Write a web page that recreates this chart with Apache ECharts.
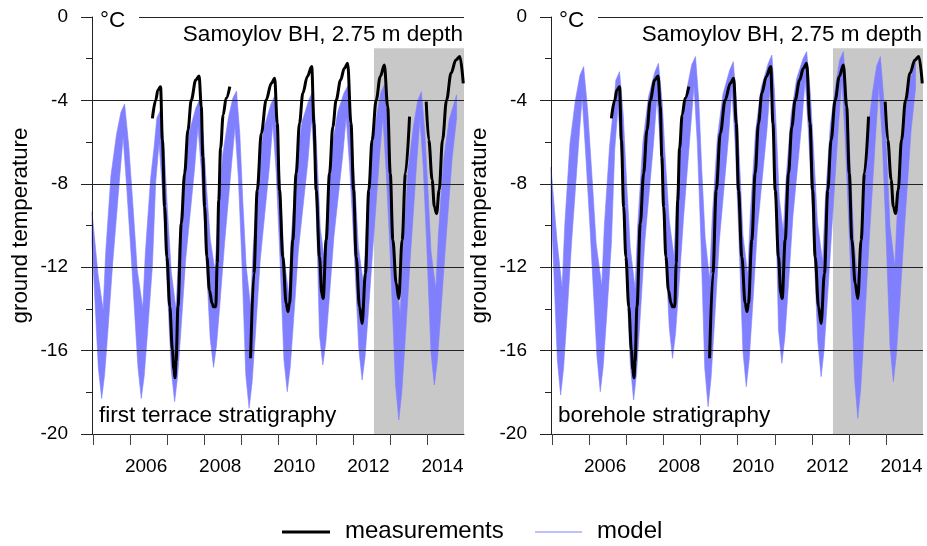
<!DOCTYPE html>
<html><head><meta charset="utf-8">
<script src="https://cdn.jsdelivr.net/npm/echarts@6/dist/echarts.min.js"></script>
<style>html,body{margin:0;padding:0;background:#fff}#c{width:927px;height:546px}</style>
</head><body><div id="c"></div>
<script>
// ---- data ----
const measTime = [2006.59,2006.68,2006.74,2006.81,2006.86,2006.92,2006.98,2007.06,2007.13,2007.17,2007.20,2007.23,2007.28,2007.37,2007.46,2007.55,2007.64,2007.76,2007.85,2007.91,2007.95,2008.00,2008.06,2008.13,2008.20,2008.24,2008.30,2008.34,2008.38,2008.43,2008.50,2008.58,2008.68,
 2008.96,
 2009.24,2009.33,2009.42,2009.53,2009.66,2009.80,2009.89,2009.96,2010.02,2010.11,2010.20,2010.25,2010.29,2010.38,2010.47,2010.56,2010.65,2010.77,2010.89,2010.95,2011.01,2011.10,2011.16,2011.20,2011.28,2011.37,2011.46,2011.55,2011.67,2011.77,2011.86,2011.95,2012.02,2012.09,2012.18,2012.25,2012.34,2012.43,2012.52,2012.63,2012.74,2012.85,2012.94,2013.01,2013.08,2013.17,2013.24,2013.33,2013.42,2013.53,
 2013.75,
 2013.98,2014.05,2014.14,2014.20,2014.26,2014.33,2014.42,2014.53,2014.65,2014.78,2014.89,2014.98];
const measValue = [-4.86,-3.98,-3.5,-3.34,-5.9,-9.1,-11.5,-13.9,-15.97,-16.9,-17.3,-16.5,-13.9,-9.9,-7.5,-5.42,-3.98,-3.02,-2.83,-4.3,-6.7,-9.1,-11.5,-13.1,-13.73,-13.9,-13.9,-11.8,-8.8,-6.3,-4.7,-3.9,-3.34,
 null,
 -16.37,-12.3,-8.3,-5.58,-3.98,-3.18,-2.94,-5.1,-8.3,-11.5,-13.73,-14.13,-13.73,-10.7,-7.5,-5.1,-3.66,-2.86,-2.38,-5.1,-8.3,-11.5,-13.25,-13.5,-10.7,-7.5,-5.26,-3.98,-3.02,-2.46,-2.22,-5.1,-8.3,-11.5,-13.9,-14.7,-12.3,-8.3,-5.9,-3.98,-2.86,-2.3,-4.3,-7.5,-10.7,-12.77,-13.5,-10.7,-7.5,-4.78,
 null,
 -4.06,-5.9,-7.8,-9.1,-9.42,-8.3,-5.9,-3.98,-2.7,-2.06,-1.9,-3.18];

const upperTime = [2004.96,2005.12,
 2005.26,2005.33,2005.47,2005.62,2005.74,2005.84,2005.95,2006.07,2006.18,
 2006.33,2006.40,2006.54,2006.64,2006.71,2006.81,2006.91,2007.00,2007.10,
 2007.23,2007.30,2007.44,2007.59,2007.76,2007.86,2007.96,2008.05,2008.15,
 2008.28,2008.35,2008.49,2008.64,2008.76,2008.86,2008.95,2009.03,2009.12,
 2009.24,2009.31,2009.45,2009.60,2009.78,2009.88,2009.97,2010.06,2010.14,
 2010.27,2010.34,2010.48,2010.63,2010.82,2010.92,2010.99,2011.06,2011.12,
 2011.23,2011.30,2011.44,2011.59,2011.76,2011.86,2011.96,2012.06,2012.15,
 2012.29,2012.36,2012.50,2012.65,2012.75,2012.85,2012.95,2013.05,2013.14,
 2013.28,2013.35,2013.49,2013.64,2013.75,2013.85,2013.94,2014.03,2014.11,
 2014.24,2014.31,2014.45,2014.60,2014.80];
const lowerTime = [2004.96,2005.13,
 2005.22,2005.30,2005.39,2005.52,2005.71,2005.80,2005.89,2006.02,2006.20,
 2006.29,2006.37,2006.46,2006.59,2006.68,2006.77,2006.86,2006.96,2007.10,
 2007.19,2007.27,2007.36,2007.49,2007.73,2007.82,2007.91,2008.01,2008.15,
 2008.24,2008.32,2008.41,2008.54,2008.73,2008.82,2008.91,2009.00,2009.11,
 2009.20,2009.28,2009.37,2009.50,2009.75,2009.84,2009.93,2010.02,2010.14,
 2010.23,2010.31,2010.40,2010.53,2010.79,2010.88,2010.97,2011.03,2011.10,
 2011.19,2011.27,2011.36,2011.49,2011.73,2011.82,2011.91,2012.02,2012.16,
 2012.25,2012.33,2012.42,2012.55,2012.72,2012.81,2012.90,2013.01,2013.15,
 2013.24,2013.32,2013.41,2013.54,2013.72,2013.81,2013.90,2013.99,2014.11,
 2014.20,2014.28,2014.37,2014.50,2014.68,2014.80];

// model band, first terrace stratigraphy (left panel)
const terraceUpper = [-9.34,-12.3,
 -14.05,-11.28,-7.63,-5.65,-4.57,-4.17,-6.13,-9.17,-12.11,
 -13.97,-11.31,-7.79,-6.17,-4.84,-4.46,-6.38,-9.35,-12.23,
 -14.05,-11.23,-7.50,-5.49,-4.38,-3.98,-5.62,-8.17,-10.64,
 -12.2,-9.78,-6.58,-4.85,-3.90,-3.55,-5.62,-8.83,-11.93,
 -13.9,-11.08,-7.35,-5.33,-4.22,-3.82,-5.72,-8.65,-11.50,
 -13.3,-10.57,-6.96,-5.01,-3.94,-3.55,-5.17,-7.68,-10.11,
 -11.65,-9.32,-6.24,-4.57,-3.65,-3.32,-5.23,-8.18,-11.04,
 -12.85,-10.16,-6.62,-4.70,-3.64,-3.26,-5.47,-8.89,-12.19,
 -14.29,-11.29,-7.33,-5.19,-4.01,-3.58,-5.48,-8.41,-11.26,
 -13.06,-10.38,-6.85,-4.93,-3.74];
const terraceLower = [-10.8,-16.8,
 -18.3,-17.17,-15.03,-11.77,-7.62,-5.74,-8.00,-11.52,-16.79,
 -18.3,-17.20,-15.11,-11.93,-7.89,-6.05,-8.28,-11.75,-16.96,
 -18.45,-17.26,-15.02,-11.59,-7.24,-5.26,-7.34,-10.57,-15.42,
 -16.8,-15.76,-13.80,-10.80,-6.99,-5.26,-7.69,-11.47,-17.15,
 -18.77,-17.54,-15.22,-11.66,-7.15,-5.1,-7.42,-11.02,-16.43,
 -17.97,-16.79,-14.57,-11.17,-6.86,-4.9,-7.02,-10.32,-15.28,
 -16.69,-15.62,-13.60,-10.51,-6.58,-4.8,-7.07,-10.60,-15.90,
 -17.41,-16.28,-14.13,-10.85,-6.69,-4.8,-7.42,-11.48,-17.59,
 -19.33,-18.03,-15.58,-11.83,-7.06,-4.9,-7.20,-10.77,-16.12,
 -17.65,-16.50,-14.32,-10.99,-6.77,-4.85];

// model band, borehole stratigraphy (right panel)
const boreholeUpper = [-7.2,-10.7,
 -13.0,-10.03,-6.10,-3.97,-2.80,-2.38,-4.48,-7.75,-10.90,
 -12.9,-10.02,-6.22,-4.47,-3.03,-2.62,-4.71,-7.94,-11.07,
 -13.05,-10.02,-6.01,-3.84,-2.65,-2.22,-4.08,-6.95,-9.74,
 -11.5,-8.81,-5.26,-3.34,-2.28,-1.9,-4.04,-7.36,-10.57,
 -12.6,-9.67,-5.80,-3.71,-2.56,-2.14,-4.19,-7.37,-10.45,
 -12.4,-9.44,-5.52,-3.41,-2.24,-1.82,-3.52,-6.14,-8.69,
 -10.3,-7.88,-4.68,-2.96,-2.01,-1.66,-3.67,-6.80,-9.82,
 -11.73,-8.91,-5.18,-3.17,-2.06,-1.66,-3.95,-7.49,-10.93,
 -13.1,-9.96,-5.82,-3.58,-2.35,-1.9,-3.91,-7.03,-10.04,
 -11.95,-9.14,-5.42,-3.41,-2.1];
const boreholeLower = [-8.8,-16.41,
 -18.13,-16.84,-14.41,-10.69,-5.97,-3.82,-6.37,-10.33,-16.27,
 -17.97,-16.74,-14.42,-10.86,-6.35,-4.3,-6.83,-10.77,-16.68,
 -18.37,-17.06,-14.59,-10.80,-6.00,-3.82,-6.08,-9.59,-14.86,
 -16.37,-15.19,-12.97,-9.57,-5.26,-3.3,-6.07,-10.38,-16.84,
 -18.69,-17.32,-14.74,-10.79,-5.78,-3.5,-6.06,-10.05,-16.02,
 -17.73,-16.42,-13.95,-10.17,-5.38,-3.2,-5.61,-9.37,-15.00,
 -16.61,-15.39,-13.07,-9.53,-5.04,-3.0,-5.57,-9.56,-15.54,
 -17.25,-15.97,-13.54,-9.84,-5.14,-3.0,-5.93,-10.48,-17.30,
 -19.25,-17.81,-15.10,-10.96,-5.69,-3.3,-5.85,-9.83,-15.79,
 -17.49,-16.21,-13.80,-10.11,-5.4,-3.4];

const shadeStart = 2012.57, shadeEnd = 2015.0, shadeTop = -1.5;
const tickYears = [2005,2006,2007,2008,2009,2010,2011,2012,2013,2014];
const labelYears = [2006,2008,2010,2012,2014];
const panelTitle = 'Samoylov BH, 2.75 m depth';
const panelNames = ['first terrace stratigraphy', 'borehole stratigraphy'];
const yTitle = 'ground temperature';
const legendNames = ['measurements', 'model'];

// ---- chart ----
const FONT = '"Liberation Sans", Arial, Helvetica, sans-serif';
const BLUE = '#8080ff';
const gridLefts = [92, 551];
const measData = measTime.map((t, i) => [t, measValue[i] === null ? '-' : measValue[i]]);
const labelPos = labelYears.map(y => y + 0.42);

function txt(x, y, text, size, align, extra) {
  return Object.assign({type: 'text', z: 11, x: x, y: y,
    style: {text: text, fontSize: size, fontFamily: FONT, fill: '#000',
      textAlign: align, textVerticalAlign: 'middle', align: align, verticalAlign: 'middle'}}, extra || {});
}

const grids = [], xAxes = [], yAxes = [], series = [], graphics = [];
[[terraceUpper, terraceLower], [boreholeUpper, boreholeLower]].forEach((band, i) => {
  const L = gridLefts[i];
  grids.push({left: L, top: 17, width: 372, height: 417});
  xAxes.push({type: 'value', gridIndex: i, min: 2004.96, max: 2015.0, z: 3,
    axisLine: {show: true, onZero: false, lineStyle: {color: '#222', width: 1}},
    axisTick: {show: true, length: 11, customValues: tickYears, lineStyle: {color: '#444'}},
    axisLabel: {show: true, customValues: labelPos, margin: 23, fontSize: 19, color: '#000', fontFamily: FONT,
      formatter: v => String(Math.floor(v + 1e-6))},
    splitLine: {show: false}});
  yAxes.push({type: 'value', gridIndex: i, min: -20, max: 0, interval: 4, z: 3,
    axisLine: {show: true, onZero: false, lineStyle: {color: '#222', width: 1}},
    axisTick: {show: true, length: 11, lineStyle: {color: '#222'}},
    minorTick: {show: true, splitNumber: 2, length: 6, lineStyle: {color: '#222'}},
    axisLabel: {margin: 24, fontSize: 19, color: '#000', fontFamily: FONT},
    splitLine: {show: true, lineStyle: {color: '#222', width: 1}}});
  series.push({type: 'custom', xAxisIndex: i, yAxisIndex: i, z: 1, silent: true,
    data: [[shadeStart, shadeTop]],
    renderItem: (p, api) => {
      const a = api.coord([shadeStart, shadeTop]);
      const b = api.coord([shadeEnd, -20]);
      return {type: 'rect', shape: {x: a[0], y: a[1], width: b[0] - a[0], height: b[1] - a[1]}, style: {fill: '#c8c8c8'}};
    }});
  const up = band[0], lo = band[1];
  series.push({type: 'custom', name: 'model', xAxisIndex: i, yAxisIndex: i, z: 2, silent: true,
    data: [[2010, -10]],
    renderItem: (p, api) => {
      const pts = [];
      for (let k = 0; k < upperTime.length; k++) pts.push(api.coord([upperTime[k], up[k]]));
      for (let k = lowerTime.length - 1; k >= 0; k--) pts.push(api.coord([lowerTime[k], lo[k]]));
      return {type: 'polygon', shape: {points: pts}, style: {fill: BLUE, stroke: BLUE, lineWidth: 0.6}};
    }});
  series.push({type: 'line', name: 'measurements', xAxisIndex: i, yAxisIndex: i, z: 4, silent: true,
    data: measData, symbol: 'none', smooth: 0.35, smoothMonotone: 'x', connectNulls: false,
    lineStyle: {color: '#000', width: 3}});

  const off = L - 92;
  graphics.push({type: 'rect', z: 10, shape: {x: 93 + off, y: 6, width: 46, height: 24}, style: {fill: '#fff'}});
  graphics.push(txt(100 + off, 20.5, '°C', 22.5, 'left'));
  graphics.push(txt(463 + off, 35, panelTitle, 22.5, 'right'));
  graphics.push(txt(99 + off, 415.5, panelNames[i], 22.6, 'left'));
  graphics.push(txt(21 + off, 225.5, yTitle, 22.3, 'center', {rotation: Math.PI / 2}));
});

// legend
graphics.push({type: 'line', z: 11, shape: {x1: 282, y1: 532, x2: 330, y2: 532}, style: {stroke: '#000', lineWidth: 3}});
graphics.push(txt(345, 531.5, legendNames[0], 24, 'left'));
graphics.push({type: 'line', z: 11, shape: {x1: 535, y1: 532, x2: 582, y2: 532}, style: {stroke: BLUE, lineWidth: 1}});
graphics.push(txt(597, 531.5, legendNames[1], 24, 'left'));

const chart = echarts.init(document.getElementById('c'), null, {renderer: 'canvas'});
chart.setOption({
  animation: false,
  backgroundColor: '#fff',
  textStyle: {fontFamily: FONT},
  grid: grids, xAxis: xAxes, yAxis: yAxes, series: series, graphic: graphics
});
</script>
</body></html>
